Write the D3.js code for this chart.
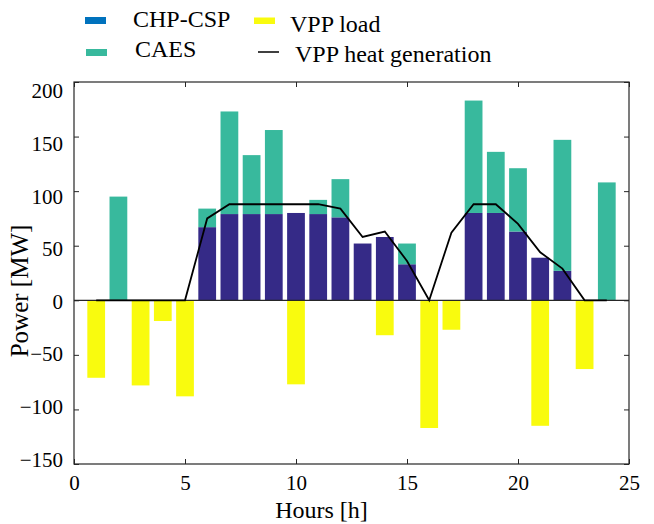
<!DOCTYPE html>
<html>
<head>
<meta charset="utf-8">
<script src="https://cdn.jsdelivr.net/npm/d3@7"></script>
<style>
  html, body { margin: 0; padding: 0; background: #fff; }
  svg { display: block; font-family: "Liberation Serif", "Times New Roman", serif; }
  svg text { font-family: "Liberation Serif", "Times New Roman", serif !important; }
</style>
</head>
<body>
<svg id="chart" width="654" height="524"></svg>
<script>
// ---- data ----
const hours = [1,2,3,4,5,6,7,8,9,10,11,12,13,14,15,16,17,18,19,20,21,22,23,24];
const chpCsp = [0,0,0,0,0,67,79,79,79,80,79,76,52,58,33,0,0,80,80,63,39,27,0,0];
const caes   = [0,95,0,0,0,17,94,54,77,0,13,35,0,0,19,0,0,103,56,58,0,120,0,108];
const vppLoad = [-71,0,-78,-19,-88,0,0,0,0,-77,0,0,0,-32,0,-117,-27,0,0,0,-115,0,-63,0];
const heatGen = [0,0,0,0,0,75,88,88,88,88,88,84,58,63,36,0,62,88,88,70,44,29,0,0];
const xTicks = [0,5,10,15,20,25];
const yTicks = [-150,-100,-50,0,50,100,150,200];
const legendItems = ["CHP-CSP", "CAES", "VPP load", "VPP heat generation"];

// ---- styles ----
const C_NAVY = "#352a87", C_TEAL = "#38b99d", C_YELLOW = "#f9fb0e", C_LEG_BLUE = "#0072bd";
const AXIS_COLOR = "#262626";
const SERIF = '"Liberation Serif", "Times New Roman", serif';

const svg = d3.select("#chart");
const M = {left: 74, right: 629, top: 82, bottom: 464};
const x = d3.scaleLinear().domain([0, 25]).range([M.left, M.right]);
const y = d3.scaleLinear().domain([-150, 200]).range([M.bottom, M.top]);
const bw = x(0.8) - x(0);

const g = svg.append("g");

// CHP-CSP bars
g.selectAll("rect.chp").data(hours).join("rect")
  .attr("class", "chp")
  .attr("x", (d) => x(d) - bw / 2)
  .attr("width", bw)
  .attr("y", (d, i) => y(chpCsp[i]))
  .attr("height", (d, i) => y(0) - y(chpCsp[i]))
  .attr("fill", C_NAVY);

// CAES stacked on top
g.selectAll("rect.caes").data(hours).join("rect")
  .attr("class", "caes")
  .attr("x", (d) => x(d) - bw / 2)
  .attr("width", bw)
  .attr("y", (d, i) => y(chpCsp[i] + caes[i]))
  .attr("height", (d, i) => y(chpCsp[i]) - y(chpCsp[i] + caes[i]))
  .attr("fill", C_TEAL);

// VPP load (negative)
g.selectAll("rect.load").data(hours).join("rect")
  .attr("class", "load")
  .attr("x", (d) => x(d) - bw / 2)
  .attr("width", bw)
  .attr("y", y(0))
  .attr("height", (d, i) => y(vppLoad[i]) - y(0))
  .attr("fill", C_YELLOW);

// zero baseline
g.append("line")
  .attr("x1", M.left).attr("x2", M.right)
  .attr("y1", y(0)).attr("y2", y(0))
  .attr("stroke", AXIS_COLOR).attr("stroke-width", 1.2);

// heat generation line
const line = d3.line().x((d) => x(d)).y((d, i) => y(heatGen[i]));
g.append("path")
  .datum(hours)
  .attr("d", line)
  .attr("fill", "none")
  .attr("stroke", "#000")
  .attr("stroke-width", 1.8)
  .attr("stroke-linejoin", "miter");

// ---- axes ----
function styleAxis(sel) {
  sel.attr("font-family", SERIF).attr("font-size", 21);
  sel.select(".domain").remove();
  sel.selectAll(".tick line").attr("stroke", AXIS_COLOR).attr("stroke-width", 1);
  sel.selectAll(".tick text").attr("fill", "#000")
    .attr("font-family", SERIF).attr("font-size", 21);
}
const xAxis = svg.append("g").attr("transform", `translate(0,${M.bottom})`)
  .call(d3.axisBottom(x).tickValues(xTicks).tickFormat(d3.format("d")).tickSizeInner(-5).tickSizeOuter(0).tickPadding(11));
styleAxis(xAxis);
const xAxisTop = svg.append("g").attr("transform", `translate(0,${M.top})`)
  .call(d3.axisTop(x).tickValues(xTicks).tickFormat("").tickSizeInner(-5).tickSizeOuter(0));
styleAxis(xAxisTop);

const yAxis = svg.append("g").attr("transform", `translate(${M.left},0)`)
  .call(d3.axisLeft(y).tickValues(yTicks).tickFormat(d3.format("d")).tickSizeInner(-5).tickSizeOuter(0).tickPadding(11));
styleAxis(yAxis);
// reference labels sit slightly compressed toward the middle
yAxis.selectAll(".tick text").attr("y", (d) => 12.5 - 0.036 * y(d)).attr("dy", "0.3em");
const yAxisRight = svg.append("g").attr("transform", `translate(${M.right},0)`)
  .call(d3.axisRight(y).tickValues(yTicks).tickFormat("").tickSizeInner(-5).tickSizeOuter(0));
styleAxis(yAxisRight);

// box
svg.append("rect")
  .attr("x", M.left).attr("y", M.top)
  .attr("width", M.right - M.left).attr("height", M.bottom - M.top)
  .attr("fill", "none").attr("stroke", AXIS_COLOR).attr("stroke-width", 1.2);

// axis labels
svg.append("text")
  .attr("x", 321.5).attr("y", 518)
  .attr("text-anchor", "middle")
  .attr("font-family", SERIF)
  .style("font-size", "24px")
  .text("Hours [h]");
svg.append("text")
  .attr("transform", "translate(28,291) rotate(-90)")
  .attr("text-anchor", "middle")
  .attr("font-family", SERIF)
  .style("font-size", "25px")
  .text("Power [MW]");

// ---- legend ----
const leg = svg.append("g").attr("font-family", SERIF).style("font-size", "24px");
leg.append("rect").attr("x", 85).attr("y", 17).attr("width", 21).attr("height", 7).attr("fill", C_LEG_BLUE);
leg.append("text").attr("x", 133).attr("y", 27).text(legendItems[0]);
leg.append("rect").attr("x", 86).attr("y", 49).attr("width", 21).attr("height", 7).attr("fill", C_TEAL);
leg.append("text").attr("x", 135).attr("y", 57).text(legendItems[1]);
leg.append("rect").attr("x", 254).attr("y", 17.5).attr("width", 21).attr("height", 6.5).attr("fill", C_YELLOW);
leg.append("text").attr("x", 290).attr("y", 32).text(legendItems[2]);
leg.append("line").attr("x1", 258).attr("x2", 279).attr("y1", 52).attr("y2", 52).attr("stroke", "#000").attr("stroke-width", 1.5);
leg.append("text").attr("x", 295).attr("y", 62).text(legendItems[3]);
</script>
</body>
</html>
